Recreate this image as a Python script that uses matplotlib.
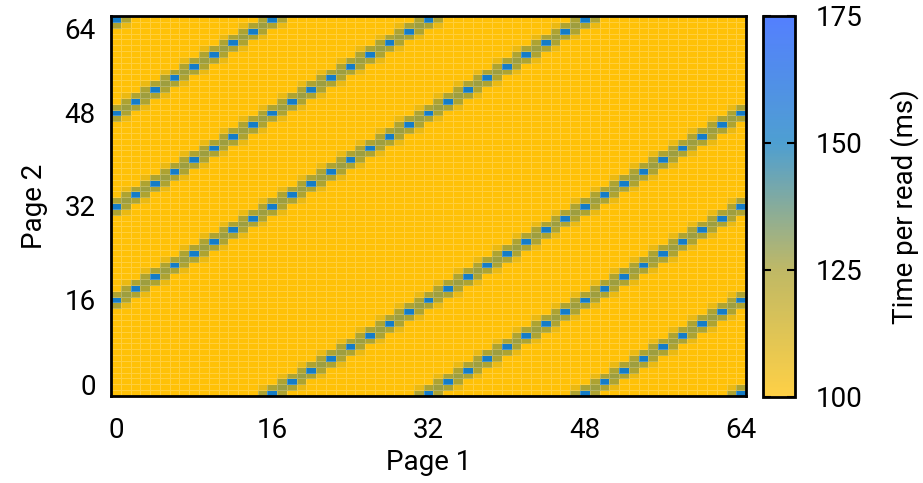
import matplotlib
matplotlib.use("Agg")
import matplotlib.pyplot as plt
import matplotlib.transforms as mtransforms
from matplotlib.colors import LinearSegmentedColormap
import numpy as np

plt.rcParams['font.family'] = ['Roboto', 'DejaVu Sans']

# page indices on both axes
pages = np.arange(65)
tick_vals = [0, 16, 32, 48, 64]

# diagonals (page2 - page1) where the two reads collide
line_offsets = [-64, -48, -32, -16, 16, 32, 48, 64]

# read times (ms)
base_time = 100
peak_even = 152     # blue cells on the diagonal
peak_odd = 127      # olive cells on the diagonal
side_time = 124     # olive cells next to the diagonal
halo_time = 106     # faint orange cells two steps away

cbar_ticks = [100, 125, 150, 175]

# build the grid of times
p1, p2 = np.meshgrid(pages, pages)
times = np.full(p1.shape, base_time, dtype=float)
for off in line_offsets:
    d = p2 - p1 - off
    times[(np.abs(d) == 2) & (p1 % 2 == 1)] = halo_time
    times[np.abs(d) == 1] = side_time
    on = d == 0
    times[on & (p1 % 2 == 0)] = peak_even
    times[on & (p1 % 2 == 1)] = peak_odd

cmap = LinearSegmentedColormap.from_list(
    "amber_blue",
    [(0.0, "#FFC107"), (1/3, "#AAA132"), (2/3, "#137FC2"), (1.0, "#1A55FF")])

fig = plt.figure(figsize=(9.23, 4.83), dpi=100)
ax = fig.add_axes([0.1203, 0.1801, 0.688, 0.7868])
cax = fig.add_axes([0.8267, 0.1781, 0.0347, 0.7888])

mesh = ax.pcolormesh(pages, pages, times, cmap=cmap, vmin=100, vmax=175,
                     shading='nearest', edgecolors=(1, 1, 1, 0.22),
                     linewidth=0.4)
ax.set_xlim(-0.5, 64.5)
ax.set_ylim(-0.5, 64.5)

ax.set_xticks(tick_vals)
ax.set_yticks(tick_vals)
ax.tick_params(length=0, labelsize=20)
ax.tick_params(axis='x', pad=15)
ax.tick_params(axis='y', pad=11)
ax.set_xlabel("Page 1", fontsize=20, labelpad=4)
ax.set_ylabel("Page 2", fontsize=20, labelpad=12)
for s in ax.spines.values():
    s.set_linewidth(2)

# nudge the end labels of the y axis inward
ylabels = ax.get_yticklabels()
ylabels[0].set_transform(ylabels[0].get_transform() +
                         mtransforms.ScaledTranslation(0, 6/72, fig.dpi_scale_trans))
ylabels[-1].set_transform(ylabels[-1].get_transform() +
                          mtransforms.ScaledTranslation(0, -7/72, fig.dpi_scale_trans))

cb = fig.colorbar(mesh, cax=cax, ticks=cbar_ticks)
cb.solids.set_alpha(0.75)
cb.outline.set_linewidth(2)
cax.tick_params(direction='in', length=6, width=1.5, left=True, right=True,
                labelsize=20, pad=15)
cb.set_label("Time per read (ms)", fontsize=20, labelpad=20)

fig.savefig("out.png", dpi=100)
